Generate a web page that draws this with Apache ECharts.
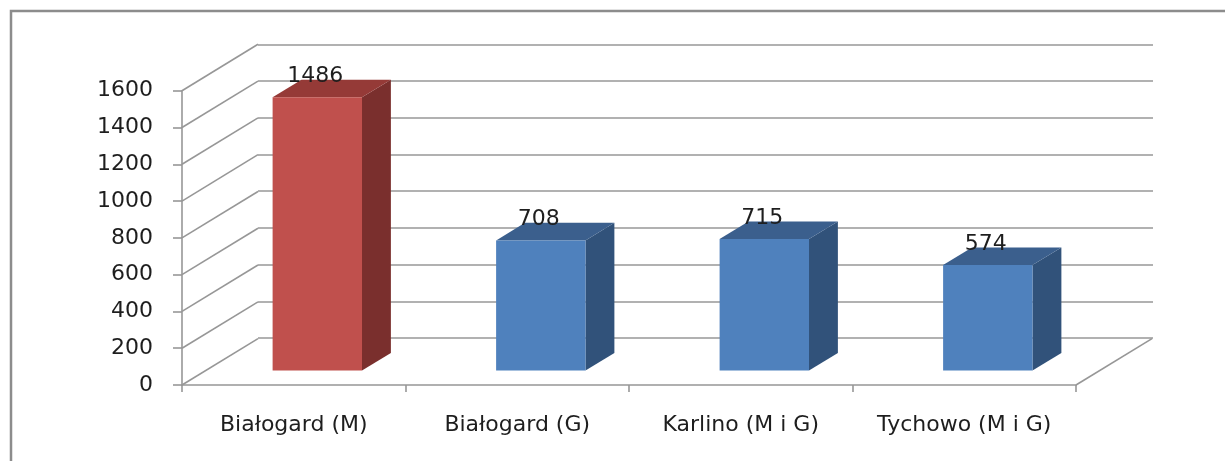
<!DOCTYPE html>
<html><head><meta charset="utf-8">
<script src="https://cdn.jsdelivr.net/npm/echarts@6/dist/echarts.min.js"></script>
<style>html,body{margin:0;padding:0;background:#fff}#c{width:1225px;height:461px}</style>
</head><body><div id="c"></div>
<script>
// ---- data ----
const categories = ['Białogard (M)', 'Białogard (G)', 'Karlino (M i G)', 'Tychowo (M i G)'];
const values = [1486, 708, 715, 574];
const yTicks = [0, 200, 400, 600, 800, 1000, 1200, 1400, 1600];

// ---- layout / style ----
const FRONT = { left: 182, right: 149, top: 90.7, bottom: 76 };
const BACK = { left: 258, right: 72, top: 44.3, bottom: 123 };
const DX = BACK.left - FRONT.left;      // depth offset x
const DY = BACK.top - FRONT.top;        // depth offset y
const BAR_F = 0.31;   // bar front depth fraction
const BAR_D = 0.38;   // bar depth fraction
const BAR_W = 0.40;   // bar width fraction of band
const GRID_COLOR = '#979797';
const FONT = 'DejaVu Sans';
const FS = 22;
const palettes = [
  { front: '#C0504D', top: '#953A37', side: '#7A2F2D' },
  { front: '#4F81BD', top: '#3B5F8D', side: '#31527A' }
];
function paletteFor(i) { return i === 0 ? palettes[0] : palettes[1]; }

const chart = echarts.init(document.getElementById('c'), null, { renderer: 'canvas' });

function renderBar(params, api) {
  const i = api.value(0), v = api.value(1);
  const base = api.coord([i, 0]);
  const top = api.coord([i, v]);
  const band = api.size([1, 0])[0];
  const w = band * BAR_W;
  const ox = DX * BAR_F, oy = DY * BAR_F;
  const sx = DX * BAR_D, sy = DY * BAR_D;
  const x0 = base[0] - w / 2 + ox, x1 = base[0] + w / 2 + ox;
  const yb = base[1] + oy, yt = top[1] + oy;
  const c = paletteFor(i);
  return {
    type: 'group',
    children: [
      { type: 'polygon', shape: { points: [[x1, yt], [x1 + sx, yt + sy], [x1 + sx, yb + sy], [x1, yb]] }, style: { fill: c.side } },
      { type: 'polygon', shape: { points: [[x0, yt], [x0 + sx, yt + sy], [x1 + sx, yt + sy], [x1, yt]] }, style: { fill: c.top } },
      { type: 'rect', shape: { x: x0, y: yt, width: w, height: yb - yt }, style: { fill: c.front } },
      { type: 'text', style: { text: String(v), x: (x0 + x1) / 2 - 2, y: yt + sy + 8, align: 'center', verticalAlign: 'bottom', font: FS + 'px "' + FONT + '"', fill: '#1e1e1e' } }
    ]
  };
}

function renderWall(params, api) {
  const v = api.value(1);
  const p = api.coord([0, v]);
  const band = api.size([1, 0])[0];
  const lx = p[0] - band / 2;
  const children = [
    { type: 'line', shape: { x1: lx, y1: p[1], x2: lx + DX, y2: p[1] + DY }, style: { stroke: GRID_COLOR, lineWidth: 1.6 } }
  ];
  if (v === 0) {
    const r = api.coord([categories.length - 1, 0]);
    const rx = r[0] + band / 2;
    children.push({ type: 'line', shape: { x1: rx, y1: r[1], x2: rx + DX, y2: r[1] + DY }, style: { stroke: GRID_COLOR, lineWidth: 1.6 } });
  }
  return { type: 'group', children };
}

const option = {
  backgroundColor: '#ffffff',
  animation: false,
  textStyle: { fontFamily: FONT },
  grid: [
    { left: FRONT.left, right: FRONT.right, top: FRONT.top, bottom: FRONT.bottom },
    { left: BACK.left, right: BACK.right, top: BACK.top, bottom: BACK.bottom }
  ],
  xAxis: [
    {
      gridIndex: 0, type: 'category', data: categories,
      axisLine: { show: true, lineStyle: { color: GRID_COLOR, width: 1.6 } },
      axisTick: { show: true, length: 7, alignWithLabel: false, lineStyle: { color: GRID_COLOR, width: 1.6 } },
      axisLabel: { fontSize: FS, color: '#1e1e1e', margin: 29, fontFamily: FONT, interval: 0 },
      splitLine: { show: false }
    },
    {
      gridIndex: 1, type: 'category', data: categories,
      axisLine: { show: false }, axisTick: { show: false }, axisLabel: { show: false }, splitLine: { show: false }
    }
  ],
  yAxis: [
    {
      gridIndex: 0, type: 'value', min: yTicks[0], max: yTicks[yTicks.length - 1], interval: 200,
      axisLine: { show: true, lineStyle: { color: GRID_COLOR, width: 1.6 } },
      axisTick: { show: true, length: 9, lineStyle: { color: GRID_COLOR, width: 1.6 } },
      axisLabel: { fontSize: FS, color: '#1e1e1e', margin: 29, fontFamily: FONT, formatter: v => String(v) },
      splitLine: { show: false }
    },
    {
      gridIndex: 1, type: 'value', min: yTicks[0], max: yTicks[yTicks.length - 1], interval: 200,
      axisLine: { show: false }, axisTick: { show: false }, axisLabel: { show: false },
      splitLine: { show: true, lineStyle: { color: GRID_COLOR, width: 1.6 } }
    }
  ],
  graphic: [
    { type: 'rect', shape: { x: 11, y: 11, width: 1400, height: 600 }, style: { fill: 'none', stroke: '#8c8c8c', lineWidth: 2.5 }, silent: true }
  ],
  series: [
    {
      type: 'custom', xAxisIndex: 0, yAxisIndex: 0, renderItem: renderWall,
      data: yTicks.map(v => [0, v]), z: 1, silent: true
    },
    {
      type: 'custom', xAxisIndex: 0, yAxisIndex: 0, renderItem: renderBar,
      data: values.map((v, i) => [i, v]), encode: { x: 0, y: 1 }, z: 5, silent: true
    }
  ]
};
chart.setOption(option);
</script>
</body></html>
